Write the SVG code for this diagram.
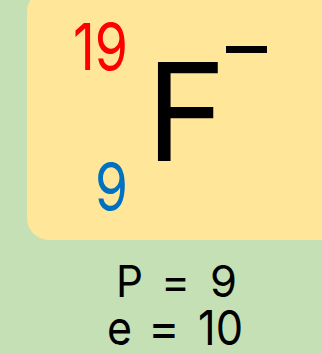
<svg xmlns="http://www.w3.org/2000/svg" width="322" height="354" viewBox="0 0 322 354">
<style>
text{font-family:Inter,"Noto Sans","Liberation Sans",sans-serif;font-weight:400;}
.l1{font-size:44px;fill:#000;}
.l2{font-size:48px;fill:#000;}
</style>
<rect x="0" y="0" width="322" height="354" fill="#c5e0b4"/>
<g id="card">
<rect x="27" y="-10" width="320" height="250" rx="22" fill="#ffe699"/>
<text x="73" y="70" font-size="65" fill="#ff0000" textLength="55" lengthAdjust="spacingAndGlyphs">19</text>
<text x="95" y="210" font-size="65" fill="#0070c0" textLength="33" lengthAdjust="spacingAndGlyphs">9</text>
<text x="146" y="161" font-size="136" fill="#000">F</text>
<rect x="226" y="46" width="41" height="7" fill="#000"/>
</g>
<g id="counts">
<text class="l1" x="116" y="297" textLength="27" lengthAdjust="spacingAndGlyphs">P</text>
<text class="l1" x="175.5" y="297" text-anchor="middle">=</text>
<text class="l1" x="210" y="297" textLength="27" lengthAdjust="spacingAndGlyphs">9</text>
<text class="l2" x="107" y="345" textLength="25" lengthAdjust="spacingAndGlyphs">e</text>
<text class="l2" x="164" y="345" text-anchor="middle">=</text>
<text class="l2" x="198" y="345" textLength="45" lengthAdjust="spacingAndGlyphs">10</text>
</g>
</svg>
